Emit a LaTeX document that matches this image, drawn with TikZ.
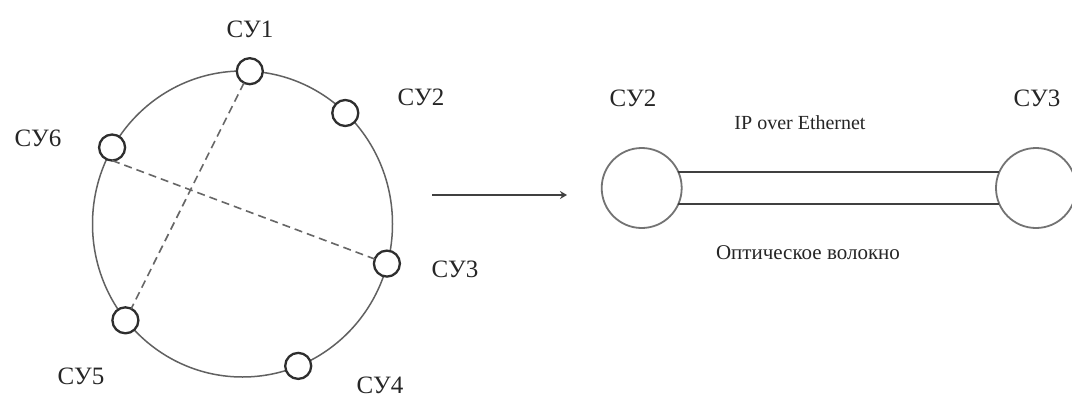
\documentclass[tikz,border=0pt]{standalone}
\usepackage{fontspec}
\setmainfont{Liberation Serif}
\usetikzlibrary{arrows.meta}
\begin{document}
\begin{tikzpicture}[x=1pt,y=-1pt,
  ring/.style={draw=black!62, line width=1.5pt},
  su/.style={circle, draw=black!82, line width=2.3pt, fill=white, minimum size=26pt, inner sep=0pt, outer sep=0pt},
  bignode/.style={circle, draw=black!55, line width=1.8pt, fill=white, minimum size=80pt, inner sep=0pt, outer sep=0pt},
  lbl/.style={font=\fontsize{25}{28}\selectfont, text=black!85, inner sep=0pt},
  captext/.style={font=\fontsize{20}{24}\selectfont, text=black!85, inner sep=0pt},
  link/.style={draw=black!75, line width=2pt},
  chord/.style={draw=black!60, line width=1.6pt, dash pattern=on 8pt off 5pt}]
\clip (0,0) rectangle (1072,397);
\fill[white] (0,0) rectangle (1072,397);
% ring
\draw[ring] (242.5,224) ellipse [x radius=150pt, y radius=153pt];
\node[su] (s1) at (249.8,71.2) {};
\node[su] (s2) at (345.3,113.0) {};
\node[su] (s3) at (386.9,263.6) {};
\node[su] (s4) at (298.2,365.9) {};
\node[su] (s5) at (125.4,320.3) {};
\node[su] (s6) at (112.1,147.5) {};
\draw[chord] (s1) -- (s5);
\draw[chord] (s6.south) -- (s3);
% labels
\node[lbl] (t1) at (250,29) {СУ1};
\node[lbl] (t2) at (421,97) {СУ2};
\node[lbl] (t3) at (455,269) {СУ3};
\node[lbl] (t4) at (380,385) {СУ4};
\node[lbl] (t5) at (81,376) {СУ5};
\node[lbl] (t6) at (38,138) {СУ6};
% arrow
\coordinate (a1) at (432,195);
\coordinate (a2) at (567,195);
\draw[line width=2.6pt, draw=black!75, -{Stealth[length=7pt,width=8pt]}] (a1) -- (a2);
% right part
\node[bignode] (L) at (641.7,188) {};
\node[bignode] (R) at (1036,188) {};
\draw[link] (L.24) -- (R.156);
\draw[link] (L.-24) -- (R.-156);
\node[lbl] (r2) at (633,98) {СУ2};
\node[lbl] (r3) at (1037,98) {СУ3};
\node[captext] (ip) at (800,123) {IP over Ethernet};
\node[font=\fontsize{21}{24}\selectfont, text=black!85, inner sep=0pt] (of) at (808,253) {Оптическое волокно};
\end{tikzpicture}
\end{document}
